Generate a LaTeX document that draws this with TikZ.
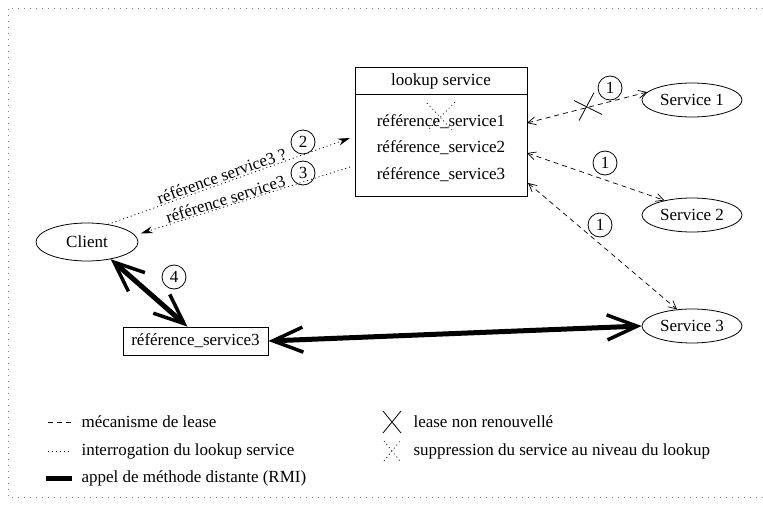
\documentclass[tikz,border=0pt]{standalone}
\usepackage{fontspec}
\setmainfont{Liberation Serif}
\usetikzlibrary{arrows.meta,shapes.geometric,calc}

\begin{document}
\begin{tikzpicture}[x=1pt,y=-1pt,font=\fontsize{17}{20}\selectfont,
  serv/.style={draw,ellipse,line width=0.8pt,minimum width=100pt,minimum height=34pt,inner sep=0pt},
  num/.style={draw,circle,line width=0.8pt,minimum size=24pt,inner sep=0pt},
  lease/.style={line width=0.7pt,dash pattern=on 5pt off 4pt,{Straight Barb[length=8pt,width=8pt,line width=0.7pt]}-{Straight Barb[length=8pt,width=8pt,line width=0.7pt]}},
  query/.style={line width=0.8pt,dash pattern=on 1pt off 3pt,-{Stealth[length=12pt,width=7pt]}},
  rmi/.style={line width=5pt,{Straight Barb[length=30pt,width=25pt,line width=3.5pt]}-{Straight Barb[length=30pt,width=25pt,line width=3.5pt]}}]
\useasboundingbox (0,0) rectangle (763,506);
\draw [gray,line width=1pt,dash pattern=on 1.2pt off 4.8pt] (763,8) -- (8,8) -- (8,497) -- (763,497);

% lookup service
\node [draw,line width=0.8pt,minimum width=172pt,minimum height=129pt] (lookup) at (441,131.5) {};
\draw [line width=0.8pt] ($(lookup.north west)+(0,28)$) -- ($(lookup.north east)+(0,28)$);
\node (title) at (441,81) {lookup service};
\node (ref1) at (441,122) {référence\_service1};
\node (ref2) at (441,148) {référence\_service2};
\node (ref3) at (441,175) {référence\_service3};
\draw [line width=0.7pt,dash pattern=on 1pt off 3pt] ($(ref1)+(-14,-19)$) -- ($(ref1)+(11,8)$);
\draw [line width=0.7pt,dash pattern=on 1pt off 3pt] ($(ref1)+(14,-20)$) -- ($(ref1)+(-13,8)$);

% services
\node [serv] (s1) at (692,100) {Service 1};
\node [serv] (s2) at (692,215) {Service 2};
\node [serv] (s3) at (692,326) {Service 3};
\node [serv,minimum width=102pt,minimum height=38pt] (client) at (87,242) {Client};
\node [draw,line width=0.8pt,minimum width=145pt,minimum height=28pt,inner sep=0pt] (ref) at (195.5,341) {référence\_service3};

% lease
\coordinate (l1) at (527,123);
\coordinate (l2) at (527,153);
\coordinate (l3) at (528,183);
\draw [lease] (l1) -- (s1.170) coordinate[pos=.5] (cut);
\draw [lease] (l2) -- (s2.152);
\draw [lease] (l3) -- (s3.132);
\draw [line width=0.8pt] ($(cut)+(-8,13)$) -- ($(cut)+(7,-15)$);
\draw [line width=0.8pt] ($(cut)+(-13,-7)$) -- ($(cut)+(15,7)$);
\node [num] (n1a) at (610,88) {1};
\node [num] (n1b) at (605,163) {1};
\node [num] (n1c) at (600,225) {1};

% lookup queries
\coordinate (q1) at (350,138);
\coordinate (q2) at (350,167);
\draw [query] (client.40) -- (q1) node[pos=.48,sloped,above,inner sep=1pt] {référence service3 ?};
\draw [query,shorten >=6pt] (q2) -- (client.8) node[pos=.57,sloped,above,inner sep=0.5pt] {référence service3};
\node [num] (n2) at (303,142) {2};
\node [num] (n3) at (303,173) {3};

% RMI
\draw [rmi] (client.-36) -- ([xshift=-8pt]ref.north);
\draw [rmi] (ref.east) -- (s3.west);
\node [num] (n4) at (174,277) {4};

% legend
\draw [line width=0.7pt,dash pattern=on 5pt off 4pt] (48,422) -- (75,422);
\node [anchor=west] (leg1) at (78,422) {mécanisme de lease};
\draw [line width=0.8pt,dash pattern=on 1pt off 3pt] (48,451) -- (72,451);
\node [anchor=west] (leg2) at (78,451) {interrogation du lookup service};
\draw [line width=5pt] (46,478) -- (72,478);
\node [anchor=west] (leg3) at (78,478) {appel de méthode distante (RMI)};
\draw [line width=0.8pt] (383,411) -- (401,433) (383,433) -- (401,411);
\node [anchor=west] (leg4) at (410,422) {lease non renouvellé};
\draw [line width=0.7pt,dash pattern=on 1pt off 3pt] (384,441) -- (400,461) (384,461) -- (400,441);
\node [anchor=west] (leg5) at (410,451) {suppression du service au niveau du lookup};
\end{tikzpicture}
\end{document}
